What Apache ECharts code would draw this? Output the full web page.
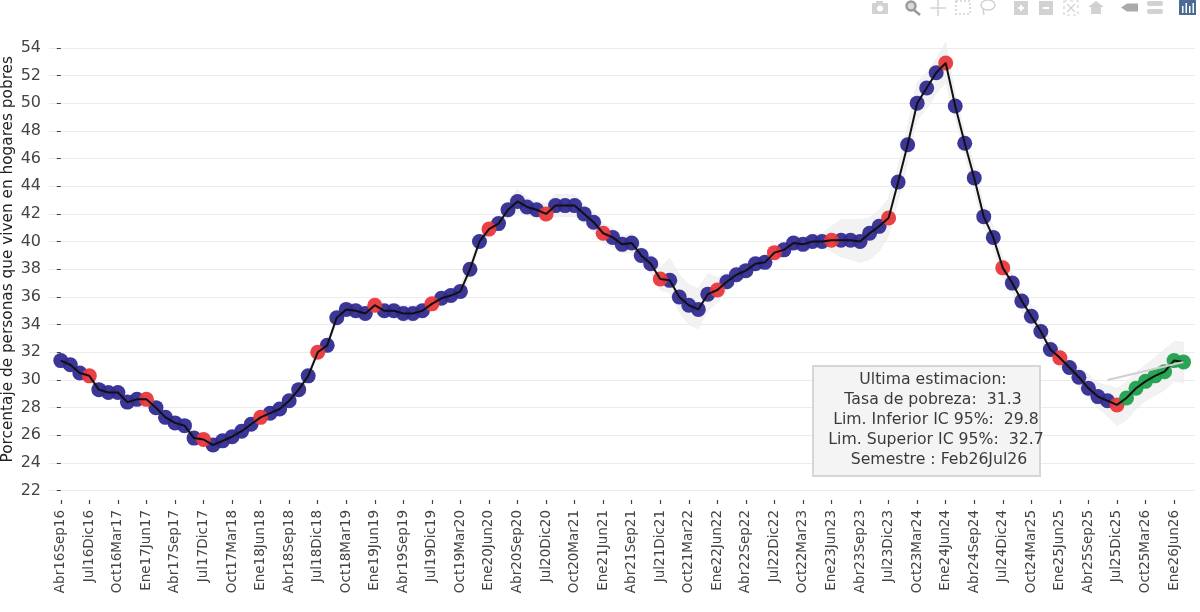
<!DOCTYPE html>
<html><head><meta charset="utf-8">
<style>html,body{margin:0;padding:0;background:#fff}#c{width:1200px;height:612px}</style>
<script src="https://cdn.jsdelivr.net/npm/echarts@6/dist/echarts.min.js"></script>
</head><body><div id="c"></div>
<script>
const periodos = ["Abr16Sep16","May16Oct16","Jun16Nov16","Jul16Dic16","Ago16Ene17","Sep16Feb17","Oct16Mar17","Nov16Abr17","Dic16May17","Ene17Jun17","Feb17Jul17","Mar17Ago17","Abr17Sep17","May17Oct17","Jun17Nov17","Jul17Dic17","Ago17Ene18","Sep17Feb18","Oct17Mar18","Nov17Abr18","Dic17May18","Ene18Jun18","Feb18Jul18","Mar18Ago18","Abr18Sep18","May18Oct18","Jun18Nov18","Jul18Dic18","Ago18Ene19","Sep18Feb19","Oct18Mar19","Nov18Abr19","Dic18May19","Ene19Jun19","Feb19Jul19","Mar19Ago19","Abr19Sep19","May19Oct19","Jun19Nov19","Jul19Dic19","Ago19Ene20","Sep19Feb20","Oct19Mar20","Nov19Abr20","Dic19May20","Ene20Jun20","Feb20Jul20","Mar20Ago20","Abr20Sep20","May20Oct20","Jun20Nov20","Jul20Dic20","Ago20Ene21","Sep20Feb21","Oct20Mar21","Nov20Abr21","Dic20May21","Ene21Jun21","Feb21Jul21","Mar21Ago21","Abr21Sep21","May21Oct21","Jun21Nov21","Jul21Dic21","Ago21Ene22","Sep21Feb22","Oct21Mar22","Nov21Abr22","Dic21May22","Ene22Jun22","Feb22Jul22","Mar22Ago22","Abr22Sep22","May22Oct22","Jun22Nov22","Jul22Dic22","Ago22Ene23","Sep22Feb23","Oct22Mar23","Nov22Abr23","Dic22May23","Ene23Jun23","Feb23Jul23","Mar23Ago23","Abr23Sep23","May23Oct23","Jun23Nov23","Jul23Dic23","Ago23Ene24","Sep23Feb24","Oct23Mar24","Nov23Abr24","Dic23May24","Ene24Jun24","Feb24Jul24","Mar24Ago24","Abr24Sep24","May24Oct24","Jun24Nov24","Jul24Dic24","Ago24Ene25","Sep24Feb25","Oct24Mar25","Nov24Abr25","Dic24May25","Ene25Jun25","Feb25Jul25","Mar25Ago25","Abr25Sep25","May25Oct25","Jun25Nov25","Jul25Dic25","Ago25Ene26","Sep25Feb26","Oct25Mar26","Nov25Abr26","Dic25May26","Ene26Jun26","Feb26Jul26"];
const tasa = [31.4,31.1,30.5,30.3,29.3,29.1,29.1,28.4,28.6,28.6,28.0,27.3,26.9,26.7,25.8,25.7,25.3,25.6,25.9,26.3,26.8,27.3,27.6,27.9,28.5,29.3,30.3,32.0,32.5,34.5,35.1,35.0,34.8,35.4,35.0,35.0,34.8,34.8,35.0,35.5,35.9,36.1,36.4,38.0,40.0,40.9,41.3,42.3,42.9,42.5,42.3,42.0,42.6,42.6,42.6,42.0,41.4,40.6,40.3,39.8,39.9,39.0,38.4,37.3,37.2,36.0,35.4,35.1,36.2,36.5,37.1,37.6,37.9,38.4,38.5,39.2,39.4,39.9,39.8,40.0,40.0,40.1,40.1,40.1,40.0,40.6,41.1,41.7,44.3,47.0,50.0,51.1,52.2,52.9,49.8,47.1,44.6,41.8,40.3,38.1,37.0,35.7,34.6,33.5,32.2,31.6,30.9,30.2,29.4,28.8,28.5,28.2,28.7,29.4,29.9,30.3,30.6,31.4,31.3];
const limInferior = [31.1,30.8,30.2,30.0,29.0,28.8,28.8,28.1,28.3,28.3,27.7,27.0,26.6,26.4,25.5,25.4,25.0,25.3,25.6,26.0,26.5,27.0,27.3,27.6,28.2,29.0,30.0,31.7,32.2,34.2,34.6,34.5,34.3,34.9,34.5,34.5,34.2,34.2,34.5,35.0,35.4,35.6,35.9,37.6,39.6,40.4,40.8,41.7,42.1,41.9,41.7,41.4,41.8,41.8,41.8,41.3,40.7,39.9,39.6,39.2,39.2,38.4,37.7,36.5,36.3,34.9,34.0,33.7,35.0,35.6,36.5,37.0,37.4,37.9,38.0,38.7,38.9,39.4,39.3,39.5,39.6,39.3,38.9,38.7,38.5,38.7,39.3,40.4,43.0,45.7,48.8,49.6,50.7,51.5,48.9,46.3,43.7,41.0,39.5,37.4,36.3,35.0,33.8,32.8,31.5,30.9,30.3,29.5,28.7,28.0,27.4,26.7,27.1,27.9,28.5,28.9,29.25,29.9,29.8];
const limSuperior = [31.7,31.4,30.8,30.6,29.6,29.4,29.4,28.7,28.9,28.9,28.3,27.6,27.2,27.0,26.1,26.0,25.6,25.9,26.2,26.6,27.1,27.6,27.9,28.2,28.8,29.6,30.6,32.3,32.8,34.8,35.6,35.5,35.3,35.9,35.5,35.5,35.4,35.4,35.5,36.0,36.4,36.6,36.9,38.4,40.4,41.4,41.8,42.9,43.8,43.2,42.9,42.8,43.4,43.4,43.4,42.7,42.1,41.3,41.0,40.4,40.6,39.6,39.1,38.1,38.8,37.6,36.9,36.6,37.7,37.4,37.7,38.2,38.4,38.9,39.0,39.7,39.9,40.4,40.3,40.5,40.6,41.1,41.6,41.6,41.6,41.7,42.3,43.1,45.4,48.3,51.5,52.2,53.2,54.4,50.7,47.9,45.5,42.6,41.1,38.8,37.7,36.4,35.4,34.2,32.9,32.3,31.5,30.9,30.4,29.8,29.6,29.4,29.85,30.5,31.1,31.6,32.2,32.8,32.7];
const indicesRojos = [3,9,15,21,27,33,39,45,51,57,63,69,75,81,87,93,99,105,111];
const indicesVerdes = [112,113,114,115,116,117,118];
const ticksX = [0,3,6,9,12,15,18,21,24,27,30,33,36,39,42,45,48,51,54,57,60,63,66,69,72,75,78,81,84,87,90,93,96,99,102,105,108,111,114,117];
const tituloY = "Porcentaje de personas que viven en hogares pobres";
const lineasCuadro = ["Ultima estimacion:","Tasa de pobreza:  31.3","Lim. Inferior IC 95%:  29.8","Lim. Superior IC 95%:  32.7","Semestre : Feb26Jul26"];

const FONT = '"DejaVu Sans", Verdana, sans-serif';
const par = (arr) => arr.map((v, i) => [i, v]);
const azules = par(tasa).filter(p => !indicesRojos.includes(p[0]) && !indicesVerdes.includes(p[0]));
const rojos = indicesRojos.map(i => [i, tasa[i]]);
const verdes = indicesVerdes.map(i => [i, tasa[i]]);
const marcador = (name, data, color) => ({type:'scatter', name, data, symbolSize:15, z:3, silent:true,
  itemStyle:{color, opacity:0.95}, clip:false});

const C1='#d2d2d2', C2='#9a9a9a';
const modebar = [
  {type:'rect',shape:{x:872,y:3,width:16,height:11,r:1},style:{fill:C1}},
  {type:'rect',shape:{x:876,y:1,width:7,height:3},style:{fill:C1}},
  {type:'circle',shape:{cx:880,cy:8.5,r:3},style:{fill:'#fff'}},
  {type:'circle',shape:{cx:911,cy:6,r:4.5},style:{fill:'#d8d8d8',stroke:C2,lineWidth:2.5}},
  {type:'line',shape:{x1:914,y1:10,x2:920,y2:15},style:{stroke:C2,lineWidth:2.5}},
  {type:'line',shape:{x1:930,y1:8,x2:946,y2:8},style:{stroke:C1,lineWidth:1.5}},
  {type:'line',shape:{x1:938,y1:0,x2:938,y2:16},style:{stroke:C1,lineWidth:1.5}},
  {type:'rect',shape:{x:956,y:1,width:14,height:13},style:{fill:'none',stroke:C1,lineWidth:1.5,lineDash:[2,2]}},
  {type:'ellipse',shape:{cx:988,cy:5,rx:7,ry:5},style:{fill:'none',stroke:C1,lineWidth:1.5}},
  {type:'line',shape:{x1:983,y1:9,x2:984,y2:15},style:{stroke:C1,lineWidth:1.5}},
  {type:'rect',shape:{x:1014,y:1,width:14,height:14},style:{fill:C1}},
  {type:'rect',shape:{x:1018,y:7,width:6,height:2},style:{fill:'#fff'}},
  {type:'rect',shape:{x:1020,y:5,width:2,height:6},style:{fill:'#fff'}},
  {type:'rect',shape:{x:1039,y:1,width:14,height:14},style:{fill:C1}},
  {type:'rect',shape:{x:1043,y:7,width:6,height:2},style:{fill:'#fff'}},
  {type:'rect',shape:{x:1064,y:1,width:14,height:14},style:{fill:'none',stroke:C1,lineWidth:1.2,lineDash:[3,3]}},
  {type:'line',shape:{x1:1067,y1:4,x2:1075,y2:12},style:{stroke:C1,lineWidth:1.2}},
  {type:'line',shape:{x1:1075,y1:4,x2:1067,y2:12},style:{stroke:C1,lineWidth:1.2}},
  {type:'polygon',shape:{points:[[1088,7],[1096,1],[1104,7],[1101,7],[1101,14],[1091,14],[1091,7]]},style:{fill:C1}},
  {type:'polygon',shape:{points:[[1121,7.5],[1127,3.5],[1138,3.5],[1138,11.5],[1127,11.5]]},style:{fill:'#aaa'}},
  {type:'rect',shape:{x:1147,y:1,width:16,height:5,r:2},style:{fill:C1}},
  {type:'rect',shape:{x:1147,y:9,width:16,height:5,r:2},style:{fill:C1}},
  {type:'rect',shape:{x:1179,y:0,width:17,height:15},style:{fill:'#4d6a94'}},
  {type:'rect',shape:{x:1182,y:6,width:1.5,height:7},style:{fill:'#fff'}},
  {type:'rect',shape:{x:1185.5,y:3,width:1.5,height:10},style:{fill:'#fff'}},
  {type:'rect',shape:{x:1189,y:6,width:1.5,height:7},style:{fill:'#fff'}},
  {type:'rect',shape:{x:1192.5,y:3,width:1.5,height:10},style:{fill:'#fff'}}
];
const centrosX = [933,933,936,936,939];
const cuadro = [
  {type:'rect',shape:{x:813,y:366,width:227,height:110},style:{fill:'#f4f4f4',stroke:'#d6d6d6',lineWidth:2},z:50},
  ...lineasCuadro.map((t,i)=>({type:'text',x:centrosX[i],y:380+i*20,z:51,
    style:{text:t,font:'15.7px '+FONT,fill:'#3a3a3a',align:'center',verticalAlign:'middle'}}))
];

const chart = echarts.init(document.getElementById('c'), null, {renderer:'canvas'});
chart.setOption({
  animation:false,
  backgroundColor:'#fff',
  grid:{left:49, right:5, top:47.8, bottom:121.3, containLabel:false, outerBoundsMode:'none'},
  xAxis:{type:'value', min:-1.24, max:119.2, offset:9.3,
    axisLine:{show:false},
    splitLine:{show:false},
    axisTick:{show:true, length:4, customValues:ticksX, lineStyle:{color:'#444',width:1.2}},
    axisLabel:{show:true, rotate:90, margin:10, fontSize:13.5, fontFamily:FONT, color:'#444',
      customValues:ticksX, formatter:(v)=>periodos[v]}},
  yAxis:{type:'value', min:22, max:54, interval:2,
    name:tituloY, nameLocation:'middle', nameGap:33, nameMoveOverlap:false,
    nameTextStyle:{fontSize:15.3, fontFamily:FONT, color:'#222', padding:[0,0,0,20]},
    axisLine:{show:false},
    axisTick:{show:true, length:4, lineStyle:{color:'#444'}},
    axisLabel:{margin:8, fontSize:16, fontFamily:FONT, color:'#444'},
    splitLine:{show:true, lineStyle:{color:'#ececec', width:1}}},
  series:[
    {type:'custom', name:'IC 95%', silent:true, z:1,
      data:limInferior.map((v,i)=>[i, v, limSuperior[i]]),
      encode:{x:0, y:[1,2]},
      renderItem:(params, api)=>{
        if (params.dataIndex !== 0) return null;
        const arriba = limSuperior.map((v,i)=>api.coord([i, v]));
        const abajo = limInferior.map((v,i)=>api.coord([i, v])).reverse();
        return {type:'polygon', shape:{points:arriba.concat(abajo)},
          style:{fill:'#efefef', opacity:0.8, stroke:'#e6e6e6', lineWidth:0.5}};
      }},
    marcador('Azul', azules, '#322b90'),
    marcador('Rojo', rojos, '#e8373c'),
    marcador('Verde', verdes, '#1fa04c'),
    {type:'line', name:'Tasa', data:par(tasa), symbol:'none', silent:true, z:4, clip:false,
      lineStyle:{color:'#111', width:2},
      markLine:{silent:true, symbol:'none', label:{show:false}, animation:false, z:5,
        lineStyle:{color:'#d0d0d0', width:2, type:'solid'},
        data:[[{coord:[110,30.0]},{coord:[118,31.3]}]]}}
  ],
  graphic:[...modebar, ...cuadro]
});
</script></body></html>
